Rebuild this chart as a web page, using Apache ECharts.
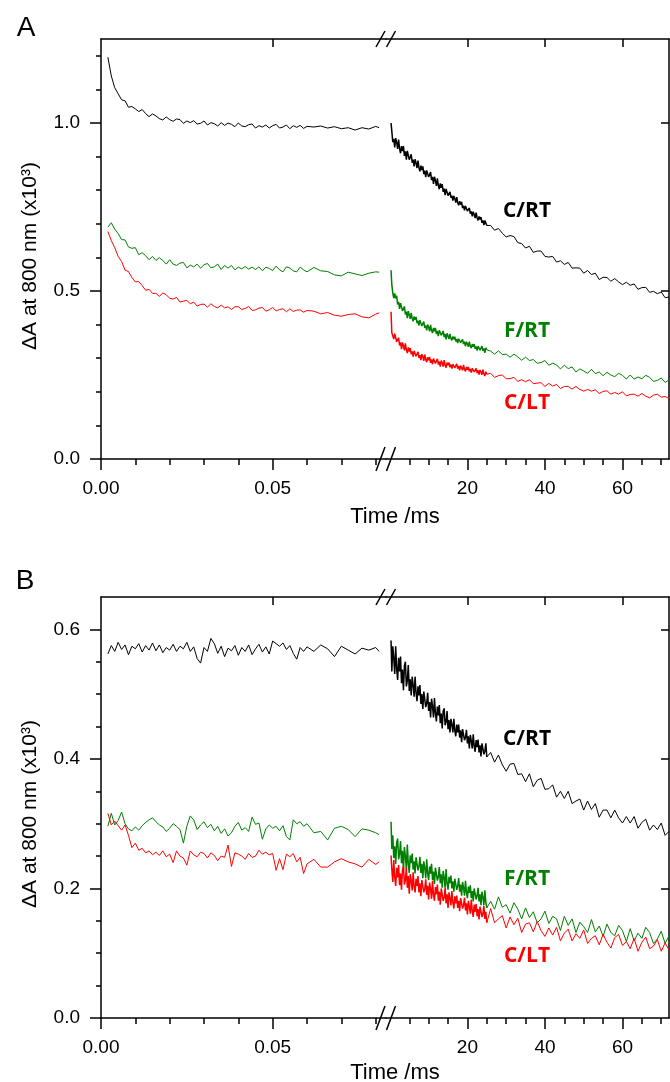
<!DOCTYPE html>
<html>
<head>
<meta charset="utf-8">
<script src="https://cdn.jsdelivr.net/npm/echarts@6/dist/echarts.min.js"></script>
<style>
  html, body { margin: 0; padding: 0; background: #fff; }
  #main { width: 670px; height: 1082px; }
</style>
</head>
<body>
<div id="main"></div>
<script>
// time points: left part in microseconds, right part in milliseconds
var tLeft = [2,3,4,5,6,7,8,9,10,11,12,13,14,15,16,17,18,19,20,21,22,23,24,25,26,27,28,29,30,31,
  32,33,34,35,36,37,38,39,40,41,42,43,44,45,46,47,48,49,50,51,52,53,54,55,56,57,58,59,60,
  62,64,66,68,70,72,74,76,78,80,81];
var tRight = [0.3,
  0.5,0.75,1,1.25,1.5,1.75,2,2.25,2.5,2.75,3,3.25,3.5,3.75,4,4.25,4.5,4.75,5,
  5.25,5.5,5.75,6,6.25,6.5,6.75,7,7.25,7.5,7.75,8,8.25,8.5,8.75,9,9.25,9.5,9.75,10,
  10.25,10.5,10.75,11,11.25,11.5,11.75,12,12.25,12.5,12.75,13,13.25,13.5,13.75,14,14.25,14.5,14.75,15,
  15.25,15.5,15.75,16,16.25,16.5,16.75,17,17.25,17.5,17.75,18,18.25,18.5,18.75,19,19.25,19.5,19.75,20,
  20.25,20.5,20.75,21,21.25,21.5,21.75,22,22.25,22.5,22.75,23,23.25,23.5,23.75,24,24.25,24.5,24.75,25,
  26,27,28,29,30,31,32,33,34,35,36,37,38,39,40,41,42,43,44,45,46,47,48,49,50,
  51,52,53,54,55,56,57,58,59,60,61,62,63,64,65,66,67,68,69,70,71,72];
var denseEnd = 100; // first 100 right-hand points are the densely sampled part (up to 25 ms)

// tick labels
var xMajorL = [0, 0.05];
var xMinorL = [0.01, 0.02, 0.03, 0.04, 0.06, 0.07, 0.08];
var xMajorR = [20, 40, 60];
var xMinorR = [5, 10, 15, 25, 30, 35, 45, 50, 55, 65, 70];
var yMajorA = [0, 0.5, 1.0];
var yMinorA = [0.1, 0.2, 0.3, 0.4, 0.6, 0.7, 0.8, 0.9, 1.1, 1.2];
var yMajorB = [0, 0.2, 0.4, 0.6];
var yMinorB = [0.05, 0.1, 0.15, 0.25, 0.3, 0.35, 0.45, 0.5, 0.55];

// panel A, values in 1e-3 units of the axis
var aBlackL = [1196,1140,1105,1087,1069,1066,1047,1049,1042,1034,
  1040,1028,1019,1027,1021,1013,1009,1018,1010,1005,
  1012,1010,999,1006,1001,1007,997,999,1006,994,
  1001,998,991,1001,993,1000,996,989,1000,991,
  989,995,997,985,992,988,994,985,992,996,
  985,988,994,983,992,987,993,984,990,988,
  991,985,989,983,986,979,986,982,990,986];
var aGreenL = [690,703,684,671,653,652,631,627,629,608,
  614,605,593,603,591,599,591,580,593,580,
  576,583,585,569,577,572,580,568,578,582,
  569,572,580,564,576,568,576,563,571,566,
  573,565,571,564,572,560,571,567,561,574,
  563,557,572,568,560,557,571,563,557,570,
  560,558,548,545,556,551,546,553,557,556];
var aRedL = [677,650,629,603,588,562,558,540,527,528,
  516,502,505,493,493,484,494,489,478,476,
  481,467,470,472,462,467,455,460,461,452,
  462,454,450,458,450,453,445,453,453,445,
  448,454,442,444,449,451,440,444,451,441,
  445,447,438,447,439,443,444,437,442,440,
  432,436,428,425,430,432,423,420,431,435];
var aBlackR = [1000,
  976,943,953,927,955,942,923,951,924,910,931,916,931,902,916,891,917,919,891,
  896,907,882,891,871,892,881,866,888,867,856,873,860,871,848,858,839,859,861,839,
  842,854,830,840,819,840,828,813,835,814,803,820,807,818,795,805,785,804,807,784,
  788,795,778,784,769,783,775,763,779,763,755,767,757,765,747,754,740,753,754,738,
  740,747,730,737,722,736,728,717,733,718,710,722,713,720,703,710,696,710,711,695,
  695,681,686,672,661,665,662,644,641,628,633,615,619,619,603,601,603,586,590,579,
  585,568,569,568,553,561,549,553,534,541,540,529,537,527,519,526,517,521,505,510,
  511,496,499,492,497,480,482];
var aGreenR = [562,
  519,494,479,493,478,486,460,468,447,464,465,441,444,454,430,439,419,440,429,
  417,435,419,410,424,414,423,404,412,397,413,414,396,399,409,390,398,383,400,392,
  380,399,383,375,390,380,390,372,381,366,383,385,368,371,381,363,372,356,374,366,
  357,372,359,353,365,356,364,350,357,345,358,360,346,348,356,342,349,335,349,343,
  334,349,336,330,342,334,342,328,335,323,336,338,324,328,336,322,329,316,331,325,
  321,312,322,311,312,303,312,304,294,303,293,296,285,287,293,279,285,280,268,279,
  269,274,259,268,262,255,267,254,259,248,258,250,245,255,249,238,250,238,244,239,
  249,243,231,234,241,228,235];
var aRedR = [438,
  376,380,357,373,372,349,351,361,338,347,327,347,337,323,344,325,315,332,320,
  330,312,320,305,322,323,306,309,319,301,309,294,312,304,292,311,296,288,303,294,
  304,286,296,282,299,301,284,288,298,281,290,275,293,286,275,294,279,272,287,279,
  287,273,281,269,282,285,271,275,283,269,277,264,278,273,264,280,267,261,274,266,
  274,261,268,257,270,272,259,262,270,256,264,251,265,259,251,266,253,247,260,252,
  255,243,248,250,239,239,243,231,236,230,236,224,226,227,216,225,217,222,210,216,
  216,208,216,207,202,207,202,206,195,201,203,193,198,193,200,188,192,193,187,195,
  187,182,190,193,184,186,180];

// panel B
var bBlackL = [562,575,566,580,569,576,561,574,570,578,
  565,575,568,579,567,576,564,572,568,577,
  566,574,570,580,566,573,555,548,572,566,
  586,578,563,574,558,571,567,575,560,572,
  566,576,561,570,577,565,573,562,582,578,
  574,579,569,575,563,554,572,566,573,566,
  576,570,558,574,568,562,571,568,572,566];
var bGreenL = [296,316,298,305,318,300,292,289,295,290,
  297,302,306,309,303,298,295,288,293,300,
  296,291,270,296,312,306,291,298,303,294,
  299,289,296,285,292,281,286,296,302,290,
  294,288,310,299,301,276,292,298,293,296,
  289,297,280,275,306,300,303,296,300,286,
  288,275,293,296,291,280,292,290,286,283];
var bRedL = [316,298,304,297,290,298,282,263,270,259,
  262,255,258,252,256,251,258,249,253,240,
  258,250,247,236,258,252,249,256,254,247,
  255,251,243,250,248,267,234,255,253,250,
  245,254,248,250,259,253,256,252,254,228,
  246,229,253,249,254,241,248,223,238,245,
  233,233,241,246,241,238,233,245,237,241];
var bBlackR = [583,
  535,574,556,531,574,539,522,556,535,558,517,538,506,544,550,512,521,545,505,
  523,498,527,514,496,527,502,489,512,498,514,485,500,477,504,507,480,486,502,474,
  488,464,493,481,464,494,470,458,481,467,483,455,470,447,474,478,452,457,474,446,
  460,441,462,453,441,462,444,435,453,441,453,433,444,426,446,449,429,433,445,424,
  435,416,437,428,416,438,420,411,429,418,430,410,421,404,424,427,407,412,424,403,
  410,395,406,391,381,392,393,376,377,365,377,357,367,370,353,354,360,341,350,339,
  350,331,335,338,321,335,322,331,310,321,321,309,321,309,301,311,301,311,293,302,
  307,290,298,291,301,282,288];
var bGreenR = [303,
  261,282,247,265,238,271,277,245,253,273,239,258,228,264,250,229,268,238,224,
  251,239,254,229,242,223,248,251,228,234,249,224,238,216,242,232,216,245,223,213,
  234,223,238,213,226,207,232,235,212,218,233,208,222,201,227,217,201,230,208,198,
  218,208,220,200,211,195,215,218,198,204,216,195,206,189,210,201,189,212,194,185,
  203,193,205,185,196,180,200,203,183,189,201,180,191,174,195,186,174,197,179,170,
  180,168,187,171,175,162,178,168,153,170,155,164,147,153,165,146,157,153,135,157,
  143,153,132,148,141,132,152,133,142,126,145,132,127,143,135,118,138,119,131,123,
  140,132,115,122,134,115,127];
var bRedR = [251,
  230,210,244,217,204,232,217,236,205,223,198,229,234,206,213,232,201,219,192,
  222,212,197,225,203,194,215,204,219,194,208,188,213,216,194,199,214,190,204,183,
  209,199,184,212,190,181,202,191,206,181,195,175,200,203,181,186,201,177,191,170,
  194,185,174,196,178,169,188,177,189,170,181,165,185,188,169,174,186,166,177,160,
  181,172,161,183,165,156,175,164,176,157,168,152,172,175,156,161,173,153,164,147,
  169,147,153,158,139,156,144,154,132,145,147,133,149,135,126,139,128,140,119,131,
  137,119,130,123,136,115,123,127,113,129,117,108,124,129,112,118,107,123,103,117,
  125,107,111,121,103,116,105];

var BLACK = '#000000', GREEN = '#008000', RED = '#ff0000';
var FONT = '"Liberation Sans", Arial, sans-serif';
var axisLineStyle = { color: '#000', width: 1.5 };

function pairs (t, v, tScale) {
  return v.map(function (y, i) { return [t[i] * tScale, y / 1000]; });
}

function baseAxis (extra) {
  var ax = {
    type: 'value',
    splitLine: { show: false },
    axisLine: { show: true, onZero: false, lineStyle: axisLineStyle },
    axisTick: { show: false },
    axisLabel: { show: false }
  };
  return Object.assign(ax, extra);
}

function ticks (values, len, inside) {
  return { show: true, customValues: values, length: len, inside: !!inside, lineStyle: axisLineStyle };
}

function labels (values, digits, margin) {
  return {
    show: true, customValues: values, fontFamily: FONT, fontSize: 19, color: '#000', margin: margin,
    formatter: function (v) { return Number(v).toFixed(digits); }
  };
}

function lineSeries (xIdx, yIdx, data, color, width) {
  return { type: 'line', xAxisIndex: xIdx, yAxisIndex: yIdx, data: data,
    symbol: 'none', lineStyle: { color: color, width: width }, itemStyle: { color: color },
    silent: true, animation: false };
}

var panels = [
  { top: 39, height: 420, yMax: 1.25, yMajor: yMajorA, yMinor: yMinorA,
    left: [aBlackL, aGreenL, aRedL], right: [aBlackR, aGreenR, aRedR] },
  { top: 597, height: 421, yMax: 0.65, yMajor: yMajorB, yMinor: yMinorB,
    left: [bBlackL, bGreenL, bRedL], right: [bBlackR, bGreenR, bRedR] }
];

var grids = [], xAxes = [], yAxes = [], series = [], graphics = [];
var colors = [BLACK, GREEN, RED];

panels.forEach(function (p) {
  var gL = grids.length, gR = gL + 1;
  grids.push({ left: 101, width: 285, top: p.top, height: p.height, outerBoundsMode: 'none' });
  grids.push({ left: 386, width: 283, top: p.top, height: p.height, outerBoundsMode: 'none' });

  var xL = xAxes.length;
  xAxes.push(baseAxis({ gridIndex: gL, position: 'bottom', min: 0, max: 0.083,
    axisTick: ticks(xMajorL, 11), axisLabel: labels(xMajorL, 2, 20) }));
  xAxes.push(baseAxis({ gridIndex: gL, position: 'bottom', min: 0, max: 0.083,
    axisLine: { show: false, onZero: false }, axisTick: ticks(xMinorL, 6) }));
  xAxes.push(baseAxis({ gridIndex: gL, position: 'top', min: 0, max: 0.083,
    axisTick: ticks([0.05], 8, true) }));
  var xR = xAxes.length;
  xAxes.push(baseAxis({ gridIndex: gR, position: 'bottom', min: -1, max: 72,
    axisTick: ticks(xMajorR, 11), axisLabel: labels(xMajorR, 0, 20) }));
  xAxes.push(baseAxis({ gridIndex: gR, position: 'bottom', min: -1, max: 72,
    axisLine: { show: false, onZero: false }, axisTick: ticks(xMinorR, 6) }));
  xAxes.push(baseAxis({ gridIndex: gR, position: 'top', min: -1, max: 72,
    axisTick: ticks(xMajorR, 8, true) }));

  var yL = yAxes.length;
  yAxes.push(baseAxis({ gridIndex: gL, position: 'left', min: 0, max: p.yMax,
    axisTick: ticks(p.yMajor, 11), axisLabel: labels(p.yMajor, 1, 21) }));
  yAxes.push(baseAxis({ gridIndex: gL, position: 'left', min: 0, max: p.yMax,
    axisLine: { show: false, onZero: false }, axisTick: ticks(p.yMinor, 5) }));
  var yR = yAxes.length;
  yAxes.push(baseAxis({ gridIndex: gR, position: 'right', min: 0, max: p.yMax,
    axisTick: ticks(p.yMajor.slice(1), 8, true) }));

  p.left.forEach(function (v, i) {
    series.push(lineSeries(xL, yL, pairs(tLeft, v, 0.001), colors[i], 1));
  });
  p.right.forEach(function (v, i) {
    var d = pairs(tRight, v, 1);
    // densely sampled early part draws as a solid band, later part as a thin trace
    series.push(lineSeries(xR, yR, d.slice(0, denseEnd), colors[i], 1.5));
    series.push(lineSeries(xR, yR, d.slice(denseEnd - 1), colors[i], 1));
  });

  // axis break marks
  var yb = p.top + p.height, yt = p.top;
  [[yb, 12], [yt, 8]].forEach(function (b) {
    [376, 386.5].forEach(function (x0) {
      graphics.push({ type: 'line', silent: true,
        shape: { x1: x0, y1: b[0] + b[1], x2: x0 + 9, y2: b[0] - b[1] },
        style: { stroke: '#000', lineWidth: 1.5 } });
    });
  });
});

function text (str, x, y, font, color, rot) {
  return { type: 'text', x: x, y: y, rotation: rot || 0, silent: true,
    style: { text: str, font: font, fill: color, textAlign: 'center', textVerticalAlign: 'middle' } };
}

var tagFont = 'bold 21px "Open Sans", sans-serif';
graphics.push(
  text('A', 26, 28, '28px ' + FONT, '#000'),
  text('B', 25, 581, '28px ' + FONT, '#000'),
  text('ΔA at 800 nm (x10³)', 30, 256, '21px ' + FONT, '#000', Math.PI / 2),
  text('ΔA at 800 nm (x10³)', 30, 814, '21px ' + FONT, '#000', Math.PI / 2),
  text('Time /ms', 395, 517, '22px ' + FONT, '#000'),
  text('Time /ms', 395, 1073, '22px ' + FONT, '#000'),
  text('C/RT', 527, 211, tagFont, BLACK),
  text('F/RT', 527, 331, tagFont, GREEN),
  text('C/LT', 527, 403, tagFont, RED),
  text('C/RT', 527, 739, tagFont, BLACK),
  text('F/RT', 527, 879, tagFont, GREEN),
  text('C/LT', 527, 956, tagFont, RED)
);

var myChart = echarts.init(document.getElementById('main'), null, { renderer: 'canvas' });
myChart.setOption({
  animation: false,
  backgroundColor: '#fff',
  grid: grids,
  xAxis: xAxes,
  yAxis: yAxes,
  series: series,
  graphic: graphics
});
</script>
</body>
</html>
